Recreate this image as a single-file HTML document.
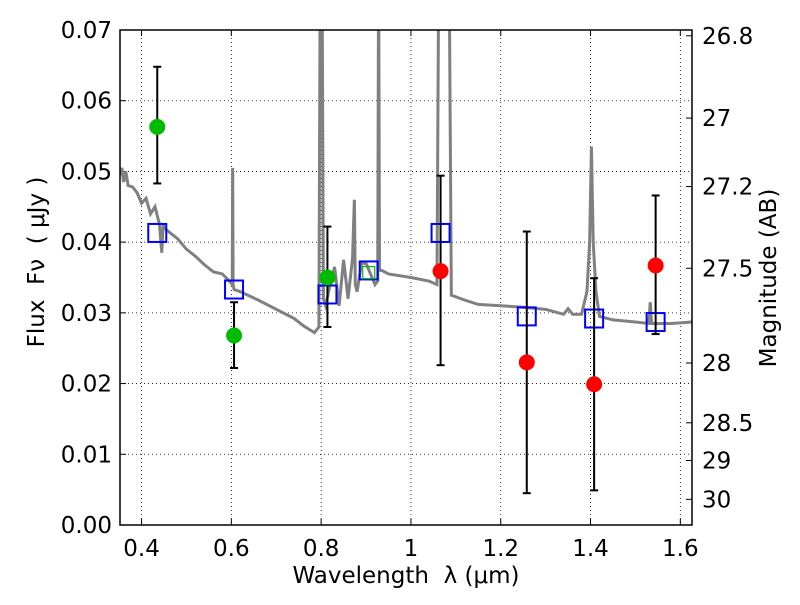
<!DOCTYPE html>
<html><head><meta charset="utf-8"><style>
body{margin:0;background:#fff}
svg{font-family:"DejaVu Sans","Liberation Sans",sans-serif}
text{white-space:pre}
</style></head><body>
<svg id="c" width="800" height="600" viewBox="0 0 800 600"></svg>
<script>
const xTicks=[0.4,0.6,0.8,1.0,1.2,1.4,1.6];
const xTickLabels=["0.4","0.6","0.8","1","1.2","1.4","1.6"];
const yTicks=[0,0.01,0.02,0.03,0.04,0.05,0.06,0.07];
const yTickLabels=["0.00","0.01","0.02","0.03","0.04","0.05","0.06","0.07"];
const magTicks=[26.8,27,27.2,27.5,28,28.5,29,30];
const magLabels=["26.8","27","27.2","27.5","28","28.5","29","30"];
const greenX=[0.435,0.606,0.814];
const greenY=[0.0563,0.0268,0.0350];
const greenLo=[0.0483,0.0222,0.0280];
const greenHi=[0.0648,0.0315,0.0422];
const redX=[1.066,1.258,1.408,1.545];
const redY=[0.0359,0.0230,0.0199,0.0367];
const redLo=[0.0226,0.0045,0.0049,0.0270];
const redHi=[0.0494,0.0415,0.0349,0.0466];
const modelX=[0.435,0.606,0.814,0.906,1.066,1.258,1.408,1.545];
const modelY=[0.0413,0.0333,0.0326,0.0360,0.0413,0.0295,0.0292,0.0287];
const specX=[0.352,0.356,0.36,0.365,0.37,0.38,0.39,0.40,0.41,0.42,0.43,0.44,0.445,0.448,0.45,0.46,0.48,0.50,0.52,0.54,0.56,0.58,0.60,0.602,0.603,0.604,0.606,0.62,0.66,0.70,0.74,0.76,0.785,0.795,0.798,0.800,0.802,0.805,0.81,0.82,0.83,0.84,0.85,0.86,0.87,0.874,0.876,0.88,0.89,0.90,0.91,0.92,0.926,0.928,0.930,0.935,0.95,1.0,1.04,1.058,1.062,1.066,1.07,1.08,1.085,1.09,1.12,1.15,1.2,1.25,1.3,1.34,1.35,1.36,1.38,1.392,1.398,1.402,1.406,1.412,1.42,1.45,1.5,1.53,1.533,1.536,1.55,1.58,1.626];
const specY=[0.0495,0.0505,0.0485,0.0500,0.0480,0.0478,0.0470,0.0455,0.0462,0.0440,0.0450,0.0425,0.0385,0.0425,0.0420,0.0415,0.0405,0.0390,0.0380,0.0368,0.0358,0.0355,0.0342,0.0340,0.0505,0.0340,0.0333,0.0330,0.0318,0.0305,0.0292,0.0282,0.0272,0.0280,0.0800,0.0800,0.0800,0.0320,0.0310,0.0340,0.0365,0.0310,0.0375,0.0320,0.0378,0.0460,0.0340,0.0330,0.0370,0.0370,0.0355,0.0340,0.0345,0.0800,0.0360,0.0360,0.0355,0.0350,0.0345,0.0340,0.0800,0.0800,0.0800,0.0800,0.0800,0.0325,0.0318,0.0312,0.0310,0.0308,0.0305,0.0298,0.0306,0.0298,0.0298,0.0330,0.0400,0.0535,0.0400,0.0330,0.0295,0.0290,0.0287,0.0285,0.0315,0.0285,0.0285,0.0285,0.0287];

const L=120,R=692,T=30,B=525,X0=0.352,X1=1.626,Y0=0,Y1=0.07;
const xs=v=>L+(v-X0)/(X1-X0)*(R-L);
const ys=v=>B-(v-Y0)/(Y1-Y0)*(B-T);
const svg=document.getElementById('c');
const NS='http://www.w3.org/2000/svg';
function mk(tag,attrs,parent){const e=document.createElementNS(NS,tag);for(const k in attrs)e.setAttribute(k,attrs[k]);(parent||svg).appendChild(e);return e;}
const clip=mk('clipPath',{id:'pc'});mk('rect',{x:L,y:T,width:R-L,height:B-T},clip);
const FS=23;
xTicks.forEach((v,i)=>{
  const g=mk('line',{x1:xs(v),x2:xs(v),y1:T,y2:B,stroke:'#000','stroke-width':0.8,'stroke-dasharray':'1,3'});
  
  mk('line',{x1:xs(v),x2:xs(v),y1:B,y2:B-6,stroke:'#000'});mk('line',{x1:xs(v),x2:xs(v),y1:T,y2:T+6,stroke:'#000'});
  const t=mk('text',{x:xs(v),y:B+31,'text-anchor':'middle','font-size':FS});t.textContent=xTickLabels[i];
  
});
yTicks.forEach((v,i)=>{
  if(i>0&&i<yTicks.length-1){const g=mk('line',{x1:L,x2:R,y1:ys(v),y2:ys(v),stroke:'#000','stroke-width':0.8,'stroke-dasharray':'1,3'});
  }
  mk('line',{x1:L,x2:L+6,y1:ys(v),y2:ys(v),stroke:'#000'});
  const t=mk('text',{x:L-8,y:ys(v)+8,'text-anchor':'end','font-size':FS});t.textContent=yTickLabels[i];
  
});
magTicks.forEach((m,i)=>{
  const f=Math.pow(10,(23.9-m)/2.5);const y=ys(f);
  mk('line',{x1:R,x2:R-6,y1:y,y2:y,stroke:'#000'});
  const t=mk('text',{x:R+10,y:y+8,'font-size':FS});t.textContent=magLabels[i];
  
});
const sp=mk('polyline',{points:specX.map((x,i)=>xs(x)+','+ys(specY[i])).join(' '),fill:'none',stroke:'#808080','stroke-width':3,'clip-path':'url(#pc)'});

modelX.forEach((x,i)=>{
  const r=mk('rect',{x:xs(x)-9,y:ys(modelY[i])-9,width:18,height:18,fill:'none',stroke:'#0000ff','stroke-width':2});
  
});
const gs=mk('rect',{x:xs(0.906)-6,y:ys(0.0357)-6,width:12,height:12,fill:'none',stroke:'#00bb00','stroke-width':1.2});

function pts(X,Y,Lo,Hi,col,name){
  X.forEach((x,i)=>{
    const cx=xs(x);
    const e=mk('line',{x1:cx,x2:cx,y1:ys(Lo[i]),y2:ys(Hi[i]),stroke:'#000','stroke-width':2});
    
    mk('line',{x1:cx-4,x2:cx+4,y1:ys(Lo[i]),y2:ys(Lo[i]),stroke:'#000','stroke-width':2});
    mk('line',{x1:cx-4,x2:cx+4,y1:ys(Hi[i]),y2:ys(Hi[i]),stroke:'#000','stroke-width':2});
    const c=mk('circle',{cx:cx,cy:ys(Y[i]),r:8,fill:col});
    
  });
}
pts(greenX,greenY,greenLo,greenHi,'#00bb00','hst-data-point');
pts(redX,redY,redLo,redHi,'#ff0000','ir-data-point');
const fr=mk('rect',{x:L,y:T,width:R-L,height:B-T,fill:'none',stroke:'#000','stroke-width':1.5});

const xl=mk('text',{x:406,y:583,'text-anchor':'middle','font-size':FS});xl.textContent='Wavelength  λ (μm)';

const yl=mk('text',{x:44,y:262,'text-anchor':'middle','font-size':FS,transform:'rotate(-90 44 262)'});yl.textContent='Flux  Fν  ( μJy )';

const rl=mk('text',{x:776,y:278,'text-anchor':'middle','font-size':FS,transform:'rotate(-90 776 278)'});rl.textContent='Magnitude (AB)';

</script>
</body></html>
